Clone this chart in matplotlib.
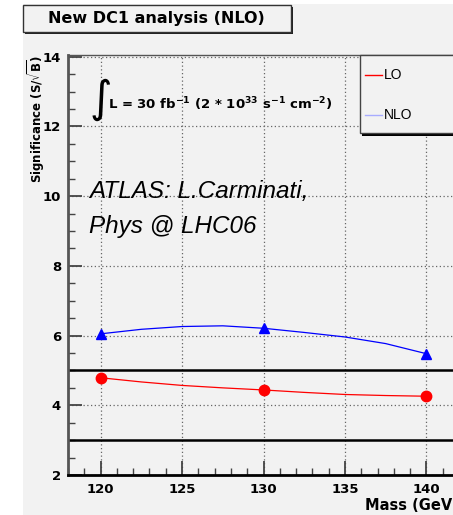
import matplotlib
matplotlib.use("Agg")
import matplotlib.pyplot as plt
from matplotlib.patches import Rectangle
from matplotlib.lines import Line2D
from matplotlib.ticker import MultipleLocator

# measured points
mass = [120, 130, 140]
sig_lo = [4.79, 4.44, 4.26]
sig_nlo = [6.05, 6.21, 5.48]

# smooth curve drawn through the points
curve_mass = [120, 122.5, 125, 127.5, 130, 132.5, 135, 137.5, 140]
curve_lo = [4.79, 4.67, 4.57, 4.50, 4.44, 4.37, 4.31, 4.28, 4.26]
curve_nlo = [6.05, 6.18, 6.26, 6.28, 6.21, 6.09, 5.96, 5.77, 5.48]

ref_lines = [5.0, 3.0]

W, H = 453, 515
BG = "#f2f2f2"
plt.rcParams['font.family'] = ['DejaVu Sans']
plt.rcParams['mathtext.fontset'] = 'dejavusans'

fig = plt.figure(figsize=(W / 100, H / 100), dpi=100, facecolor="white")

# gray canvas behind everything
fig.patches.append(Rectangle((23 / W, 0), 1, 1 - 4 / H, transform=fig.transFigure,
                             facecolor=BG, edgecolor="none", zorder=-10))

# title box with shadow
fig.patches.append(Rectangle((25 / W, 1 - 34 / H), 268 / W, 27 / H, transform=fig.transFigure,
                             facecolor="#222222", edgecolor="none", zorder=1))
fig.patches.append(Rectangle((23 / W, 1 - 32 / H), 268 / W, 27 / H, transform=fig.transFigure,
                             facecolor=BG, edgecolor="#333333", lw=1, zorder=2))
fig.text(156 / W, 1 - 18.5 / H, "New DC1 analysis (NLO)", ha="center", va="center",
         fontsize=11.5, fontweight="bold", zorder=3)

# axes placed in pixel coordinates
ax = fig.add_axes([68 / W, 1 - 475 / H, 391 / W, 420 / H])
ax.set_facecolor(BG)
ax.set_xlim(118, 142)
ax.set_ylim(2, 14.05)

ax.plot(curve_mass, curve_nlo, color="blue", lw=0.9, zorder=3)
ax.plot(mass, sig_nlo, ls="none", marker="^", color="blue", ms=7, zorder=4)
ax.plot(curve_mass, curve_lo, color="red", lw=0.9, zorder=3)
ax.plot(mass, sig_lo, ls="none", marker="o", color="red", ms=7.5, zorder=4)

for y in ref_lines:
    ax.axhline(y, color="black", lw=1.8, zorder=2)

ax.xaxis.set_major_locator(MultipleLocator(5))
ax.xaxis.set_minor_locator(MultipleLocator(1))
ax.yaxis.set_major_locator(MultipleLocator(2))
ax.yaxis.set_minor_locator(MultipleLocator(0.5))
ax.grid(True, which="major", ls=(0, (1, 2)), color="#666666", lw=0.9)
ax.tick_params(which="major", direction="in", length=10, width=1.3, color="#444444",
               labelsize=9.5, pad=6)
ax.tick_params(which="minor", direction="in", length=5, width=1.0, color="#444444")
for lab in ax.get_xticklabels() + ax.get_yticklabels():
    lab.set_fontweight("bold")
ax.tick_params(axis="y", pad=5)

ax.spines["right"].set_visible(False)
ax.spines["top"].set_color("#555555")
ax.spines["top"].set_linewidth(1.0)
ax.spines["left"].set_color("#555555")
ax.spines["left"].set_linewidth(2.0)
ax.spines["bottom"].set_color("black")
ax.spines["bottom"].set_linewidth(2.0)

fig.text(36 / W, 1 - 55 / H, r"Significance (S/$\sqrt{\mathbf{B}}$)", rotation=90,
         ha="center", va="top", fontsize=8.5, fontweight="bold")
fig.text(459 / W, 1 - 505 / H, "Mass (GeV)", ha="right", va="center",
         fontsize=10.5, fontweight="bold")

# luminosity label
fig.text(89 / W, 1 - 100 / H, r"$\int$", ha="left", va="center", fontsize=22)
fig.text(108 / W, 1 - 104 / H,
         r"L = 30 fb$^{\mathbf{-1}}$ (2 * 10$^{\mathbf{33}}$ s$^{\mathbf{-1}}$ cm$^{\mathbf{-2}}$)",
         ha="left", va="center", fontsize=9.5, fontweight="bold")

fig.text(89 / W, 1 - 198 / H, "ATLAS: L.Carminati,", ha="left", va="baseline",
         fontsize=17.5, style="italic", family="Liberation Sans")
fig.text(89 / W, 1 - 233 / H, "Phys @ LHC06", ha="left", va="baseline",
         fontsize=17.5, style="italic", family="Liberation Sans")

# legend box with shadow
fig.patches.append(Rectangle((362 / W, 1 - 136 / H), 100 / W, 80 / H, transform=fig.transFigure,
                             facecolor="black", edgecolor="none", zorder=5))
fig.patches.append(Rectangle((360 / W, 1 - 133 / H), 100 / W, 78 / H, transform=fig.transFigure,
                             facecolor=BG, edgecolor="#444444", lw=1, zorder=6))
fig.lines.append(Line2D([365 / W, 382 / W], [1 - 75 / H] * 2, transform=fig.transFigure,
                        color="red", lw=1, zorder=7))
fig.text(384 / W, 1 - 75 / H, "LO", ha="left", va="center", fontsize=10, zorder=7,
         family="Liberation Sans")
fig.lines.append(Line2D([365 / W, 382 / W], [1 - 115 / H] * 2, transform=fig.transFigure,
                        color="#a8acff", lw=1, zorder=7))
fig.text(384 / W, 1 - 115 / H, "NLO", ha="left", va="center", fontsize=10, zorder=7,
         family="Liberation Sans")

fig.savefig("out.png", dpi=100, facecolor="white")
